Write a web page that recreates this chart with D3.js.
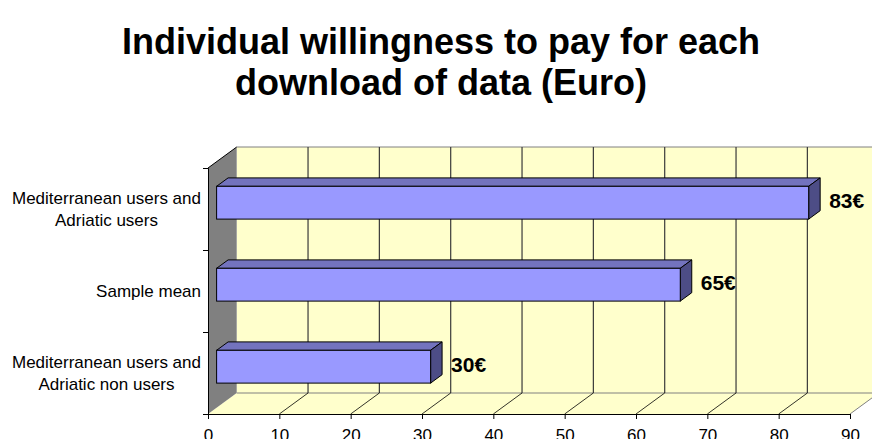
<!DOCTYPE html>
<html>
<head>
<meta charset="utf-8">
<script src="https://cdn.jsdelivr.net/npm/d3@7"></script>
<style>
    body { margin: 0; background: #fff; }
    svg { display: block; font-family: Arial, "Liberation Sans", sans-serif; }
</style>
</head>
<body>
<div id="chart"></div>
<script>
// data
const categories = [
    ['Mediterranean users and', 'Adriatic users'],
    ['Sample mean'],
    ['Mediterranean users and', 'Adriatic non users']
];
const values = [83, 65, 30];
const valueLabels = ['83€', '65€', '30€'];
const xTicks = [0, 10, 20, 30, 40, 50, 60, 70, 80, 90];
const titleLines = ['Individual willingness to pay for each', 'download of data (Euro)'];

const width = 872, height = 439;
const front = { left: 208, right: 850, top: 168, bottom: 414 };
const depth = { dx: 28.7, dy: -21 };   // offset of the back wall
const barDepth = [0.3, 0.7];           // bar sits between these fractions of the depth

const colors = {
    wall: '#FFFFCC',
    side: '#808080',
    barFront: '#9999FF',
    barTop: '#7373BE',
    barEnd: '#4D4D86'
};

const svg = d3.select('#chart')
    .append('svg')
    .attr('width', width)
    .attr('height', height);

const xScale = d3.scaleLinear()
    .domain([0, 90])
    .range([front.left, front.right]);

const yScale = d3.scaleBand()
    .domain(d3.range(categories.length))
    .range([front.top, front.bottom]);

const barH = yScale.bandwidth() * 0.4;
const line = d3.line();

// back wall
const backLeft = front.left + depth.dx, backTop = front.top + depth.dy, backBottom = front.bottom + depth.dy;
svg.append('rect')
    .attr('x', backLeft)
    .attr('y', backTop)
    .attr('width', xScale(90) + depth.dx - backLeft)
    .attr('height', backBottom - backTop)
    .attr('fill', colors.wall);
svg.append('line')
    .attr('x1', backLeft).attr('x2', width)
    .attr('y1', backTop).attr('y2', backTop)
    .attr('stroke', '#808080');

// floor
svg.append('path')
    .attr('d', line([
        [xScale(0), front.bottom], [xScale(90), front.bottom],
        [xScale(90) + depth.dx, backBottom], [xScale(0) + depth.dx, backBottom]
    ]) + 'Z')
    .attr('fill', colors.wall);
svg.append('line')
    .attr('x1', backLeft).attr('x2', xScale(90) + depth.dx)
    .attr('y1', backBottom).attr('y2', backBottom)
    .attr('stroke', '#808080');
svg.append('line')
    .attr('x1', xScale(90)).attr('x2', xScale(90) + depth.dx)
    .attr('y1', front.bottom).attr('y2', backBottom)
    .attr('stroke', '#808080');

// grid lines on the back wall and the floor
svg.selectAll('.grid')
    .data(xTicks.slice(1))
    .enter()
    .append('line')
    .attr('class', 'grid')
    .attr('x1', d => xScale(d) + depth.dx)
    .attr('x2', d => xScale(d) + depth.dx)
    .attr('y1', backTop)
    .attr('y2', backBottom)
    .attr('stroke', '#3a3a3a')
    .attr('stroke-width', 1.2);

svg.selectAll('.floorline')
    .data(xTicks.slice(1, -1))
    .enter()
    .append('line')
    .attr('class', 'floorline')
    .attr('x1', d => xScale(d))
    .attr('x2', d => xScale(d) + depth.dx)
    .attr('y1', front.bottom)
    .attr('y2', backBottom)
    .attr('stroke', '#000')
    .attr('stroke-width', 0.8);

// left side wall
svg.append('path')
    .attr('d', line([
        [front.left, front.top], [backLeft, backTop],
        [backLeft, backBottom], [front.left, front.bottom]
    ]) + 'Z')
    .attr('fill', colors.side);
svg.append('line')
    .attr('x1', front.left).attr('x2', backLeft)
    .attr('y1', front.top).attr('y2', backTop)
    .attr('stroke', '#000');

// bars (top face, end face, front face)
const bars = svg.selectAll('.bar')
    .data(values)
    .enter()
    .append('g')
    .attr('class', 'bar');

const ox = depth.dx * barDepth[0], oy = depth.dy * barDepth[0];
const bx = depth.dx * (barDepth[1] - barDepth[0]), by = depth.dy * (barDepth[1] - barDepth[0]);
const faceTop = i => yScale(i) + (yScale.bandwidth() - barH) / 2 + oy;

bars.append('path')
    .attr('d', (d, i) => line([
        [xScale(0) + ox, faceTop(i)], [xScale(0) + ox + bx, faceTop(i) + by],
        [xScale(d) + ox + bx, faceTop(i) + by], [xScale(d) + ox, faceTop(i)]
    ]) + 'Z')
    .attr('fill', colors.barTop)
    .attr('stroke', '#000')
    .attr('stroke-width', 1);

bars.append('path')
    .attr('d', (d, i) => line([
        [xScale(d) + ox, faceTop(i)], [xScale(d) + ox + bx, faceTop(i) + by],
        [xScale(d) + ox + bx, faceTop(i) + by + barH], [xScale(d) + ox, faceTop(i) + barH]
    ]) + 'Z')
    .attr('fill', colors.barEnd)
    .attr('stroke', '#000')
    .attr('stroke-width', 1);

bars.append('rect')
    .attr('x', xScale(0) + ox)
    .attr('y', (d, i) => faceTop(i))
    .attr('width', d => xScale(d) - xScale(0))
    .attr('height', barH)
    .attr('fill', colors.barFront)
    .attr('stroke', '#000')
    .attr('stroke-width', 1);

// value labels
svg.selectAll('.vlabel')
    .data(values)
    .enter()
    .append('text')
    .attr('class', 'vlabel')
    .attr('x', d => xScale(d) + ox + bx + 9)
    .attr('y', (d, i) => faceTop(i) + barH / 2 - 2)
    .attr('dy', '0.35em')
    .style('font-size', '21px')
    .style('font-weight', 'bold')
    .text((d, i) => valueLabels[i]);

// axes
svg.append('g')
    .attr('transform', `translate(0, ${front.bottom})`)
    .call(d3.axisBottom(xScale).tickValues(xTicks).tickSize(5).tickPadding(10))
    .call(g => g.select('.domain').attr('stroke', '#000'))
    .call(g => g.selectAll('.tick line').attr('stroke', '#000'))
    .call(g => g.selectAll('.tick text')
        .style('font-size', '17px')
        .attr('fill', '#000')
        .attr('font-family', null));

svg.append('g')
    .attr('transform', `translate(${front.left}, 0)`)
    .call(d3.axisLeft(d3.scalePoint().domain(d3.range(categories.length + 1)).range([front.top, front.bottom]))
        .tickSize(5)
        .tickFormat(''))
    .call(g => g.select('.domain').attr('stroke', '#000'))
    .call(g => g.selectAll('.tick line').attr('stroke', '#000'));

// category labels: block right aligned, lines centered inside it
const labelRight = 201, lineH = 22;
categories.forEach((lines, i) => {
    const g = svg.append('g');
    const texts = g.selectAll('text')
        .data(lines)
        .enter()
        .append('text')
        .style('font-size', '17px')
        .attr('text-anchor', 'middle')
        .attr('y', (d, j) => yScale(i) + yScale.bandwidth() / 2 + (j - (lines.length - 1) / 2) * lineH)
        .attr('dy', '0.35em')
        .text(d => d);
    const maxW = d3.max(texts.nodes(), n => n.getComputedTextLength());
    texts.attr('x', labelRight - maxW / 2);
});

// title
svg.append('text')
    .attr('x', 441)
    .attr('text-anchor', 'middle')
    .style('font-size', '36px')
    .style('font-weight', 'bold')
    .selectAll('tspan')
    .data(titleLines)
    .enter()
    .append('tspan')
    .attr('x', 441)
    .attr('y', (d, i) => 54 + i * 41)
    .text(d => d);
</script>
</body>
</html>
